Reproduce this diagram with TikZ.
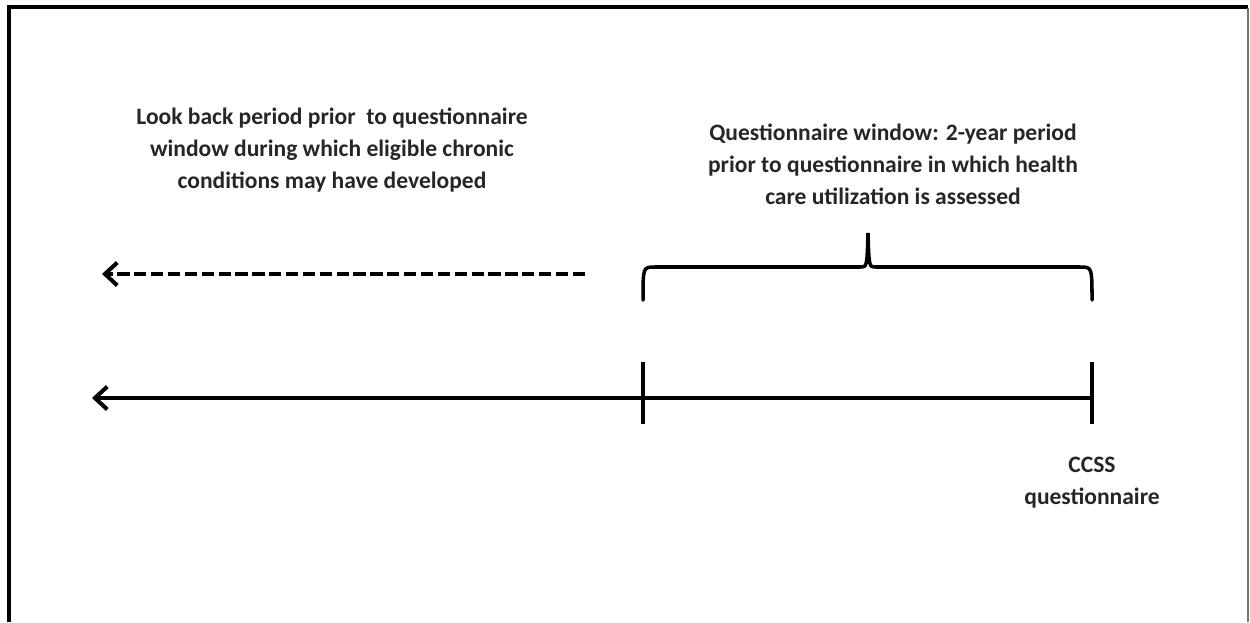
\documentclass[tikz,border=0pt]{standalone}
\usepackage{fontspec}
\setmainfont{Carlito}
\usetikzlibrary{arrows.meta}
\begin{document}
\begin{tikzpicture}[x=0.02cm, y=-0.02cm, every node/.style={font=\bfseries\fontsize{13.4}{18.2}\selectfont, text=black!85, align=center, inner sep=0}]
  \useasboundingbox (0,0) rectangle (1250,622);
  \draw [line width=2.6pt] (9,622) -- (9,7) -- (1248,7);
  \draw [black!55, line width=0.8pt] (1248,8) -- (1248,622);
  \coordinate (t1) at (643,398);
  \coordinate (t2) at (1092,398);
  \coordinate (axisend) at (92,398);
  \coordinate (dash1) at (585,274);
  \coordinate (dash2) at (102,274);
  \node (lookback) at (332,150) {Look back period prior\ \ to questionnaire\\window during which eligible chronic\\conditions may have developed};
  \node (window) at (893,164) {Questionnaire window: 2-year period\\prior to questionnaire in which health\\care utilization is assessed};
  \node (ccss) at (1092,483) {CCSS\\questionnaire};
  \draw [line width=2.3pt, -{Straight Barb[length=7pt, width=13pt]}] (t2) -- (axisend);
  \draw [line width=2.3pt] (643,362) -- (643,424);
  \draw [line width=2.3pt] (1092,362) -- (1092,424);
  \draw [line width=2.3pt, dash pattern=on 7pt off 2.6pt, -{Straight Barb[length=7pt, width=13pt]}] (dash1) -- (dash2);
  \draw [line width=2pt, line cap=round] (643,300) .. controls (643,267) .. (655,267) -- (860,267) .. controls (867,267) .. (868,233) .. controls (869,267) .. (876,267) -- (1080,267) .. controls (1092,267) .. (1092,300);
\end{tikzpicture}
\end{document}
